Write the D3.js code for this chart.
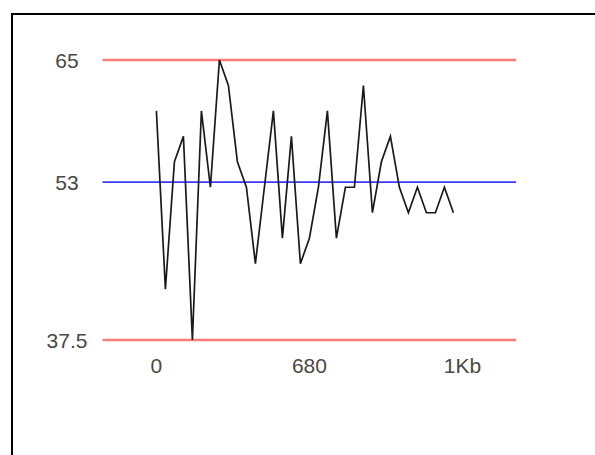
<!DOCTYPE html>
<html>
<head>
<meta charset="utf-8">
<script src="https://cdn.jsdelivr.net/npm/d3@7/dist/d3.min.js"></script>
<style>
  html, body { margin: 0; padding: 0; background: #fff; }
  svg { display: block; }
  .tick-label { font-family: "Liberation Sans", Arial, sans-serif; font-size: 21px; fill: #484848; }
</style>
</head>
<body>
<svg id="chart" width="595" height="455"></svg>
<script>
// GC content (%) in 40 bp windows along the sequence
const windowStart = [0, 40, 80, 120, 160, 200, 240, 280, 320, 360, 400, 440, 480, 520, 560, 600, 640,
                     680, 720, 760, 800, 840, 880, 920, 960, 1000, 1040, 1080, 1120, 1160, 1200, 1240, 1280, 1320];
const gcPercent = [60, 42.5, 55, 57.5, 37.5, 60, 52.5, 65, 62.5, 55, 52.5, 45, 52.5, 60, 47.5, 57.5, 45,
                   47.5, 52.5, 60, 47.5, 52.5, 52.5, 62.5, 50, 55, 57.5, 52.5, 50, 52.5, 50, 50, 52.5, 50];

// y-axis ticks: upper/lower limits and the mean
const yTicks = [65, 53, 37.5];
const limitValues = [65, 37.5];
const meanValue = 53;

// x-axis ticks (bp) and their labels
const xTicks = [0, 680, 1360];
const xTickLabels = ["0", "680", "1Kb"];

const svg = d3.select("#chart");

// frame around the figure
svg.append("rect")
  .attr("x", 12).attr("y", 14)
  .attr("width", 620).attr("height", 480)
  .attr("fill", "none")
  .attr("stroke", "#000")
  .attr("stroke-width", 2);

const x = d3.scaleLinear().domain([0, 1360]).range([156.4, 462.4]);
const y = d3.scaleLinear().domain([37.5, 65]).range([340, 60]);

const lineLeft = 102.5, lineRight = 516;

// limit lines
svg.selectAll("line.limit")
  .data(limitValues)
  .join("line")
  .attr("class", "limit")
  .attr("x1", lineLeft).attr("x2", lineRight)
  .attr("y1", d => y(d)).attr("y2", d => y(d))
  .attr("stroke", "#ff7a7a")
  .attr("stroke-width", 2.4);

// mean line
svg.append("line")
  .attr("x1", lineLeft).attr("x2", lineRight)
  .attr("y1", y(meanValue)).attr("y2", y(meanValue))
  .attr("stroke", "#3a3aff")
  .attr("stroke-width", 1.7);

// GC profile
const series = windowStart.map((s, i) => ({ s, v: gcPercent[i] }));
svg.append("path")
  .datum(series)
  .attr("fill", "none")
  .attr("stroke", "#1a1a1a")
  .attr("stroke-width", 1.7)
  .attr("stroke-linejoin", "miter")
  .attr("d", d3.line().x(d => x(d.s)).y(d => y(d.v)));

// y tick labels
svg.selectAll("text.ylab")
  .data(yTicks)
  .join("text")
  .attr("class", "tick-label ylab")
  .attr("x", 67)
  .attr("y", d => y(d))
  .attr("dy", "0.36em")
  .attr("text-anchor", "middle")
  .text(d => d);

// x tick labels
svg.selectAll("text.xlab")
  .data(xTicks)
  .join("text")
  .attr("class", "tick-label xlab")
  .attr("x", d => x(d))
  .attr("y", 365)
  .attr("dy", "0.36em")
  .attr("text-anchor", "middle")
  .text((d, i) => xTickLabels[i]);
</script>
</body>
</html>
